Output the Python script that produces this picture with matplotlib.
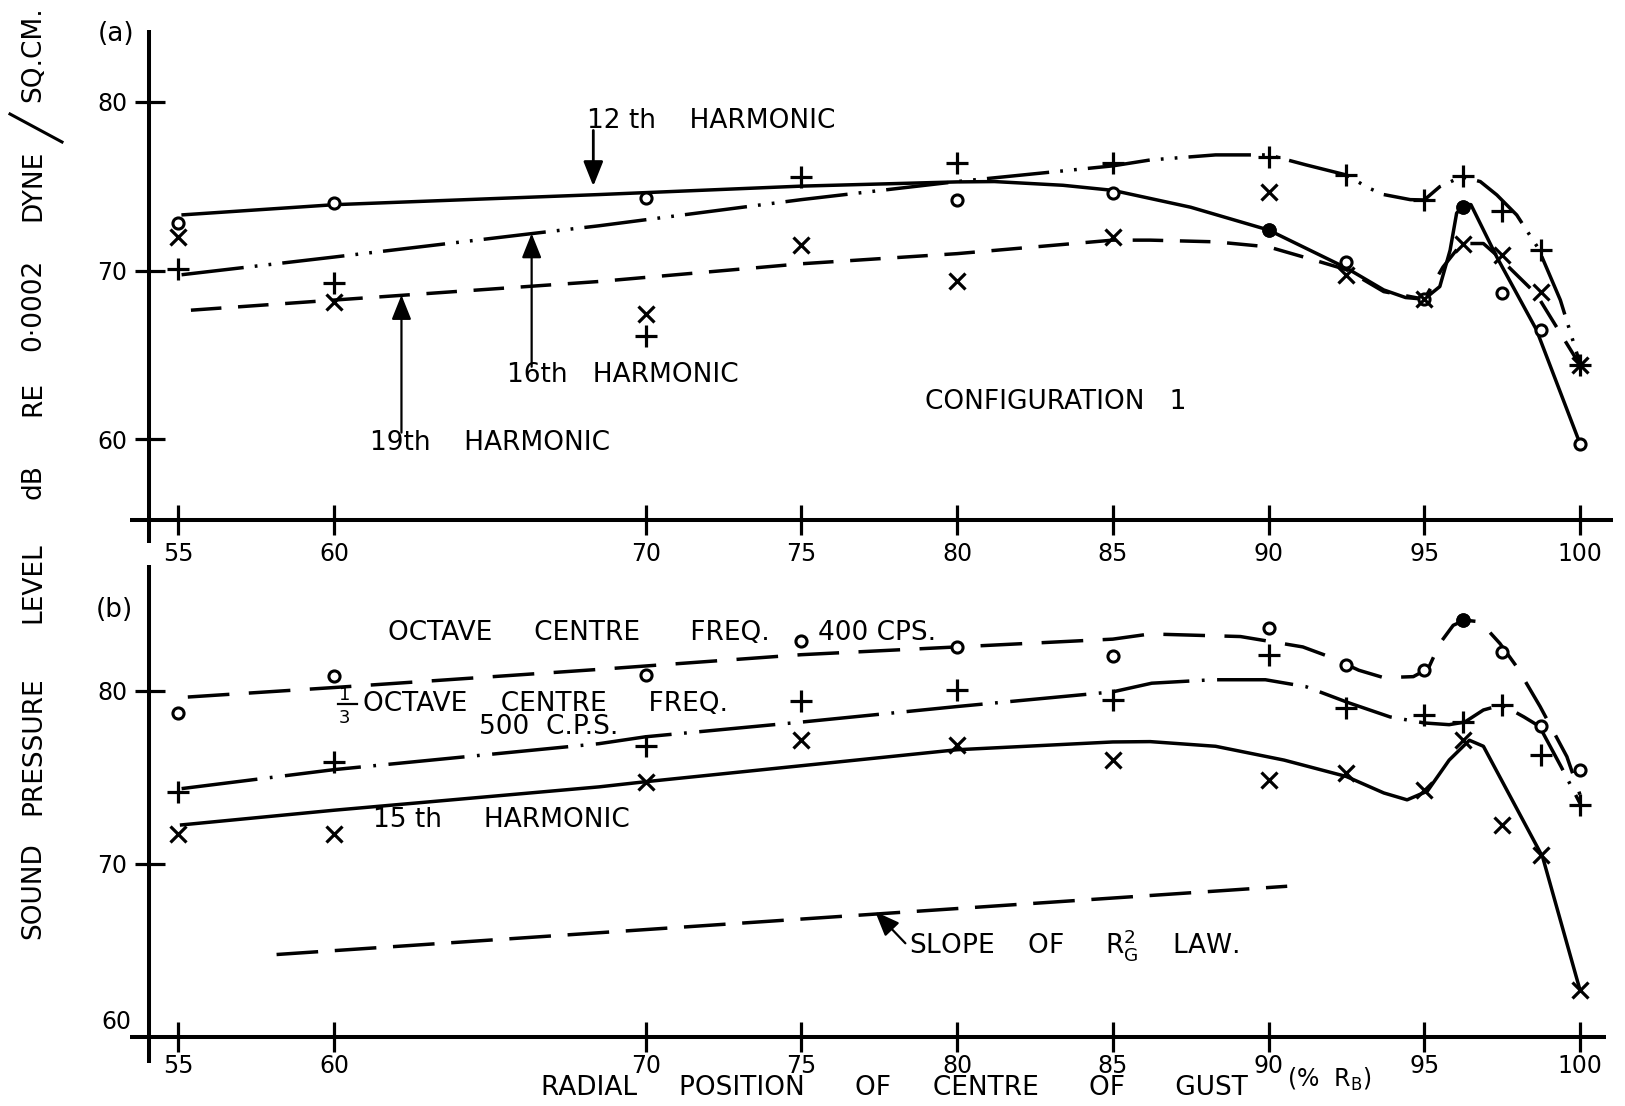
import matplotlib
matplotlib.use("Agg")
import matplotlib.pyplot as plt

plt.rcParams["font.family"] = ["DejaVu Sans"]
plt.rcParams["mathtext.fontset"] = "dejavusans"
plt.rcParams["lines.scale_dashes"] = False

# radial stations of the gust centre (% R_B)
stations = [55, 60, 70, 75, 80, 85, 90, 92.5, 95, 96.25, 97.5, 98.75, 100]
x_ticks = [55, 60, 70, 75, 80, 85, 90, 95, 100]

# (a) configuration 1, measured harmonic levels (dB)
h12_x = [55, 60, 70, 80, 85, 90, 92.5, 95, 96.25, 97.5, 98.75, 100]
h12_y = [72.8, 74.0, 74.3, 74.2, 74.6, 72.4, 70.5, 68.3, 73.75, 68.65, 66.5, 59.75]
h12_filled = [90, 96.25]
h16_y = [70.1, 69.25, 66.1, 75.55, 76.35, 76.35, 76.75, 75.65, 74.2, 75.6, 73.5, 71.2, 64.4]
h19_y = [72.0, 68.15, 67.4, 71.5, 69.35, 72.0, 74.65, 69.75, 68.3, 71.6, 70.9, 68.75, 64.4]

# (a) faired curves
h12_fit_x = [55.15, 60, 68.5, 75, 80, 81.2, 83.4, 85, 87.5, 90, 92.5, 93.7, 94.4, 95,
             95.5, 95.83, 96.04, 96.3, 96.5, 97.33, 98.6, 100]
h12_fit_y = [73.3, 73.9, 74.5, 75.0, 75.25, 75.27, 75.05, 74.75, 73.75, 72.4, 70.15, 68.85,
             68.4, 68.3, 69.05, 71.2, 73.4, 73.95, 73.9, 70.8, 66.5, 59.75]
h16_fit_x = [55.1, 60, 66.4, 68.5, 75, 80, 85, 86.2, 88.3, 90, 91.2, 92.5, 93.2, 93.7,
             94.55, 95.0, 95.5, 96.2, 96.8, 97.33, 97.97, 98.66, 99.37, 100]
h16_fit_y = [69.75, 70.8, 72.2, 72.65, 74.2, 75.27, 76.2, 76.55, 76.85, 76.85, 76.26, 75.66,
             74.9, 74.5, 74.2, 74.18, 74.97, 75.56, 75.27, 74.48, 73.29, 71.32, 68.25, 64.5]
h19_fit_x = [55.4, 60, 68.5, 75, 80, 85, 86.2, 88.3, 90, 91.5, 92.5, 93.7, 95, 95.6,
             96.2, 96.9, 97.33, 98.6, 100]
h19_fit_y = [67.65, 68.25, 69.35, 70.4, 71.0, 71.8, 71.8, 71.7, 71.4, 70.6, 70.05, 68.75,
             68.3, 70.2, 71.6, 71.6, 70.9, 68.6, 64.4]

# (b) octave / third-octave band levels and 15th harmonic (dB)
oct400_y = [78.75, 80.85, 80.95, 82.9, 82.55, 82.05, 83.65, 81.5, 81.2, 84.1, 82.25, 77.95, 75.45]
oct400_filled = [96.25]
third500_y = [74.15, 75.9, 76.8, 79.4, 80.05, 79.45, 82.1, 79.0, 78.6, 78.2, 79.2, 76.3, 73.4]
h15_y = [71.75, 71.75, 74.75, 77.15, 76.9, 76.0, 74.85, 75.25, 74.25, 77.15, 72.25, 70.5, 62.7]

oct400_fit_x = [55.3, 60, 68.5, 75, 80, 85, 86.2, 89.1, 91.1, 92.0, 92.9, 93.7, 94.65, 95.13,
                95.5, 95.93, 96.3, 96.8, 97.43, 97.97, 98.72, 99.58, 100]
oct400_fit_y = [79.65, 80.2, 81.25, 82.1, 82.55, 83.0, 83.3, 83.15, 82.55, 81.95, 81.2, 80.77,
                80.83, 81.3, 82.75, 83.8, 84.1, 84.0, 82.75, 81.4, 79.1, 76.2, 74.0]
third500_fit_x = [55.1, 60, 68.5, 70, 75, 80, 85, 86.25, 88.2, 89.9, 91.2, 92.6, 93.9, 95.0,
                  95.8, 96.3, 96.9, 97.5, 98.2, 98.7, 99.4, 100]
third500_fit_y = [74.35, 75.45, 76.95, 77.35, 78.2, 79.1, 79.95, 80.45, 80.65, 80.65, 80.25,
                  79.3, 78.5, 78.15, 78.05, 78.2, 78.9, 79.2, 78.5, 77.95, 75.6, 73.5]
h15_fit_x = [55.1, 60, 68.5, 70, 80, 85, 86.2, 88.3, 90.5, 92.5, 93.7, 94.45, 95.1, 95.8,
             96.45, 96.9, 98.8, 100]
h15_fit_y = [72.25, 73.1, 74.45, 74.75, 76.6, 77.05, 77.07, 76.8, 76.0, 75.05, 74.1, 73.7,
             74.2, 76.0, 77.15, 76.8, 70.4, 62.7]

# reference slope of the R_G^2 law
rg_law_x = [58.15, 90.6]
rg_law_y = [64.75, 68.7]

INK = "black"
LW = 2.5
DASH_19 = (0, (22, 12))
DASH_16 = (0, (45, 8, 2, 8, 2, 8))
DASH_400 = (0, (30, 14))
DASH_500 = (0, (55, 9, 2, 9))
DASH_LAW = (0, (30, 12))

OPEN_O = dict(marker="o", ms=8, mfc="white", mec=INK, mew=2.2, ls="none", zorder=4)
FULL_O = dict(marker="o", ms=9, mfc=INK, mec=INK, mew=1.5, ls="none", zorder=5)
PLUS = dict(marker="+", ms=16, mec=INK, mew=2.3, ls="none", zorder=4)
CROSS = dict(marker="x", ms=11, mec=INK, mew=2.3, ls="none", zorder=4)

XLIM = (54.07, 101.06)
FS_TEXT = 19
FS_TICK = 17

fig = plt.figure(figsize=(16.25, 11.06), dpi=100)
ax_a = fig.add_axes([0.0920, 0.52984, 0.9006, 0.44304])
ax_b = fig.add_axes([0.0920, 0.06275, 0.9006, 0.42640])
ax_a.set_xlim(*XLIM)
ax_a.set_ylim(55.22, 84.25)
ax_b.set_xlim(*XLIM)
ax_b.set_ylim(60.0, 87.29)


def frame(ax, x_start, x_end, y_start):
    x0 = ax.get_xlim()[0]
    y0, y1 = ax.get_ylim()
    ax.plot([x_start, x_end], [y0, y0], color=INK, lw=2.9, clip_on=False,
            solid_capstyle="butt", zorder=6)
    ax.plot([x0, x0], [y_start, y1], color=INK, lw=2.9, clip_on=False,
            solid_capstyle="butt", zorder=6)
    for s in ax.spines.values():
        s.set_visible(False)
    ax.patch.set_visible(False)
    ax.set_xticks(x_ticks)
    ax.set_xticklabels([str(t) for t in x_ticks])
    ax.tick_params(axis="both", direction="inout", width=2.3, color=INK,
                   labelsize=FS_TICK, labelcolor=INK)
    ax.tick_params(axis="x", length=22)
    ax.tick_params(axis="y", length=21, pad=5.5)


def curve(ax, xs, ys, ls):
    ax.plot(xs, ys, color=INK, lw=LW, ls=ls, solid_joinstyle="round",
            dash_joinstyle="round", zorder=3)


def arrow(ax, tip, tail, lw=1.6):
    ax.annotate("", xy=tip, xytext=tail,
                arrowprops=dict(arrowstyle="-|>,head_length=0.75,head_width=0.3",
                                color=INK, fc=INK, lw=lw, shrinkA=0, shrinkB=0,
                                mutation_scale=20))


def label(ax, x, y, s, size=FS_TEXT, ha="left"):
    ax.text(x, y, s, fontsize=size, ha=ha, va="center", clip_on=False)


# ---- panel (a) ----
frame(ax_a, 53.44, 101.06, 53.86)
ax_a.tick_params(axis="x", pad=4.5)
ax_a.set_yticks([60, 70, 80])
ax_a.set_yticklabels(["60", "70", "80"])

curve(ax_a, h12_fit_x, h12_fit_y, "-")
curve(ax_a, h16_fit_x, h16_fit_y, DASH_16)
curve(ax_a, h19_fit_x, h19_fit_y, DASH_19)

ax_a.plot(h12_x, h12_y, **OPEN_O)
ax_a.plot(h12_filled, [h12_y[h12_x.index(v)] for v in h12_filled], **FULL_O)
ax_a.plot(stations, h16_y, **PLUS)
ax_a.plot(stations, h19_y, **CROSS)

arrow(ax_a, (68.32, 75.0), (68.32, 78.3), lw=2.0)
arrow(ax_a, (66.34, 72.2), (66.34, 64.3))
arrow(ax_a, (62.16, 68.55), (62.16, 60.4))

label(ax_a, 68.11, 78.86, "12 th    HARMONIC")
label(ax_a, 65.54, 63.81, "16th   HARMONIC")
label(ax_a, 61.15, 59.81, "19th    HARMONIC")
label(ax_a, 78.97, 62.21, "CONFIGURATION   1")
label(ax_a, 52.99, 84.02, "(a)", ha="center")

# ---- panel (b) ----
frame(ax_b, 53.44, 100.84, 58.47)
ax_b.tick_params(axis="x", pad=1.5)
ax_b.set_yticks([70, 80])
ax_b.set_yticklabels(["70", "80"])
label(ax_b, 53.02, 60.84, "60", size=FS_TICK, ha="center")

curve(ax_b, oct400_fit_x, oct400_fit_y, DASH_400)
curve(ax_b, third500_fit_x, third500_fit_y, DASH_500)
curve(ax_b, h15_fit_x, h15_fit_y, "-")
curve(ax_b, rg_law_x, rg_law_y, DASH_LAW)

ax_b.plot(stations, oct400_y, **OPEN_O)
ax_b.plot(oct400_filled, [oct400_y[stations.index(v)] for v in oct400_filled], **FULL_O)
ax_b.plot(stations, third500_y, **PLUS)
ax_b.plot(stations, h15_y, **CROSS)

arrow(ax_b, (77.37, 67.23), (78.34, 65.4))

label(ax_b, 52.95, 84.66, "(b)", ha="center")
label(ax_b, 61.72, 83.36, "OCTAVE     CENTRE      FREQ.")
label(ax_b, 75.53, 83.36, "400 CPS.")
label(ax_b, 60.34, 79.77, "1", size=13, ha="center")
label(ax_b, 60.34, 78.41, "3", size=13, ha="center")
ax_b.plot([60.12, 60.73], [79.25, 79.25], color=INK, lw=1.6)
label(ax_b, 60.92, 79.25, "OCTAVE    CENTRE     FREQ.")
label(ax_b, 64.66, 77.9, "500  C.P.S.")
label(ax_b, 61.25, 72.53, "15 th     HARMONIC")
label(ax_b, 78.45, 65.3, r"SLOPE    OF     R$_{\mathrm{G}}^{2}$    LAW.")
label(ax_b, 66.64, 57.03, "RADIAL     POSITION      OF     CENTRE      OF      GUST")
label(ax_b, 90.6, 57.5, r"(%  R$_{\mathrm{B}}$)", size=17)

# shared vertical axis title, one word at a time
W, H = 1625.0, 1106.0
for word, yc in [("SQ.CM.", 54), ("DYNE", 185), ("0\u00b70002", 305), ("RE", 398),
                 ("dB", 482), ("LEVEL", 583), ("PRESSURE", 746), ("SOUND", 891)]:
    fig.text(33 / W, 1 - yc / H, word, rotation=90, ha="center", va="center",
             fontsize=FS_TEXT)
fig.add_artist(plt.Line2D([10 / W, 62 / W], [1 - 114 / H, 1 - 142 / H], color=INK, lw=2.2))

fig.savefig("out.png", dpi=100, facecolor="white")
